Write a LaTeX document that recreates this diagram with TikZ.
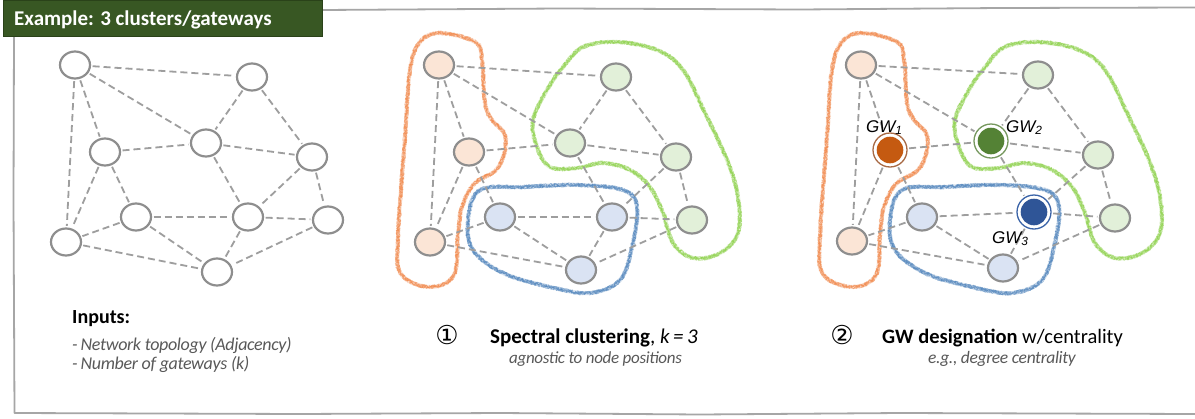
\documentclass[tikz,border=0pt]{standalone}
\usepackage{fontspec}
\setmainfont{Carlito}
\newfontfamily\gwfont{Liberation Sans}
\newfontfamily\symfont{DejaVu Sans}
\usetikzlibrary{shapes.geometric,decorations.pathmorphing}
\definecolor{ndgray}{HTML}{8E8E8E}
\definecolor{edgegray}{HTML}{9E9E9E}
\definecolor{orfill}{HTML}{FBE5D6}
\definecolor{grfill}{HTML}{E2F0D9}
\definecolor{blfill}{HTML}{DAE3F3}
\definecolor{orline}{HTML}{F2884A}
\definecolor{grline}{HTML}{8ED24C}
\definecolor{blline}{HTML}{4F84BC}
\definecolor{gwone}{HTML}{C55A11}
\definecolor{gwonering}{HTML}{A86A45}
\definecolor{gwtwo}{HTML}{548235}
\definecolor{gwtworing}{HTML}{76985E}
\definecolor{gwthree}{HTML}{2F5597}
\definecolor{gwthreering}{HTML}{3B64A8}
\definecolor{hdrfill}{HTML}{385723}
\definecolor{hdrline}{HTML}{2A4219}
\definecolor{framegray}{HTML}{A6A6A6}
\definecolor{subgray}{HTML}{595959}
\def\orangepath{plot[smooth cycle, tension=0.6] coordinates {(76,33) (111,42) (118,60) (121,103) (128,120) (140,133) (141,150) (132,170) (110,184) (98,207) (94,235) (90,275) (66,287) (37,274) (34,237) (41,137) (46,70) (56,42)}}
\def\greenpath{plot[smooth cycle, tension=0.6] coordinates {(199,67) (219,47) (253,42) (293,50) (319,70) (343,117) (363,160) (374,197) (374,233) (356,253) (329,258) (309,243) (299,213) (286,187) (266,170) (239,163) (213,168) (186,167) (173,147) (169,120) (183,90)}}
\def\bluepath{plot[smooth cycle, tension=0.6] coordinates {(116,190) (159,187) (213,185) (259,190) (273,207) (268,247) (256,280) (226,293) (186,287) (139,273) (109,250) (104,220)}}
\begin{document}
\begin{tikzpicture}[x=1pt,y=-1pt,
  nd/.style={ellipse, draw=ndgray, line width=2.2pt, minimum width=30pt, minimum height=27pt, inner sep=0pt, fill=white},
  gw/.style 2 args={circle, draw=#1, line width=1.3pt, fill=white, minimum size=34pt, inner sep=0pt,
     path picture={\fill[#2] (path picture bounding box.center) circle (13.3pt);}},
  edge/.style={draw=edgegray, line width=1.8pt, dash pattern=on 7pt off 4pt},
  fuzz/.style={draw=#1, decorate, decoration={random steps, segment length=1pt, amplitude=2.2pt}, line width=0.5pt, draw opacity=0.45, line join=round},
  softline/.style={draw=#1, line width=4pt, draw opacity=0.22},
  frame/.style={draw=framegray, line width=1.8pt, line join=round, line cap=round},
  txt/.style={inner sep=0pt, anchor=base west},
  gwlabel/.style={inner sep=0pt, anchor=base west, font=\gwfont\itshape\fontsize{17}{20}\selectfont}
]
\pgfmathsetseed{7}
\useasboundingbox (0,0) rectangle (1195,418);
\fill[white] (0,0) rectangle (1195,418);
% sketch frame
\draw[frame] (322,10) -- (560,8.5) -- (800,9.5) -- (1000,8) -- (1196,7.5);
\draw[frame] (14,36) -- (13.5,200) -- (14.5,413) -- (300,414) -- (500,413) -- (700,414.5) -- (900,413) -- (1196,414);
% header
\node[fill=hdrfill, draw=hdrline, line width=0.8pt, minimum width=319pt, minimum height=36pt, inner sep=0pt] (hdr) at (162.5,18) {};
\node[txt, text=white, font=\bfseries\fontsize{21}{24}\selectfont] (hdrt) at (14,25) {Example: 3 clusters/gateways};

% clusters, middle graph
\begin{scope}[xshift=364pt]
  \draw[softline=orline] \orangepath;
  \foreach \k in {1,...,6} \draw[fuzz=orline] \orangepath;
  \draw[softline=grline] \greenpath;
  \foreach \k in {1,...,6} \draw[fuzz=grline] \greenpath;
  \draw[softline=blline] \bluepath;
  \foreach \k in {1,...,6} \draw[fuzz=blline] \bluepath;
\end{scope}
% clusters, right graph
\begin{scope}[xshift=786pt]
  \draw[softline=orline] \orangepath;
  \foreach \k in {1,...,6} \draw[fuzz=orline] \orangepath;
  \draw[softline=grline] \greenpath;
  \foreach \k in {1,...,6} \draw[fuzz=grline] \greenpath;
  \draw[softline=blline] \bluepath;
  \foreach \k in {1,...,6} \draw[fuzz=blline] \bluepath;
\end{scope}

% left graph
\begin{scope}
  \node[nd] (aA) at (75,65) {};
  \node[nd] (aB) at (252,77) {};
  \node[nd] (aC) at (105,152) {};
  \node[nd] (aD) at (206,143) {};
  \node[nd] (aE) at (312,157) {};
  \node[nd] (aF) at (136,217) {};
  \node[nd] (aG) at (248,217) {};
  \node[nd] (aH) at (328,220) {};
  \node[nd] (aI) at (66,242) {};
  \node[nd] (aJ) at (217,272) {};
\end{scope}
% middle graph
\begin{scope}[xshift=364pt]
  \node[nd, fill=orfill] (bA) at (75,65) {};
  \node[nd, fill=grfill] (bB) at (252,77) {};
  \node[nd, fill=orfill] (bC) at (105,152) {};
  \node[nd, fill=grfill] (bD) at (206,143) {};
  \node[nd, fill=grfill] (bE) at (312,157) {};
  \node[nd, fill=blfill] (bF) at (136,217) {};
  \node[nd, fill=blfill] (bG) at (248,217) {};
  \node[nd, fill=grfill] (bH) at (328,220) {};
  \node[nd, fill=orfill] (bI) at (66,242) {};
  \node[nd, fill=blfill] (bJ) at (217,270) {};
\end{scope}
% right graph
\begin{scope}[xshift=786pt]
  \node[nd, fill=orfill] (cA) at (75,65) {};
  \node[nd, fill=grfill] (cB) at (252,75) {};
  \node[gw={gwonering}{gwone}] (cC) at (104,150) {};
  \node[gw={gwtworing}{gwtwo}] (cD) at (205,141) {};
  \node[nd, fill=grfill] (cE) at (312,155) {};
  \node[nd, fill=blfill] (cF) at (136,217) {};
  \node[gw={gwthreering}{gwthree}] (cG) at (248,212) {};
  \node[nd, fill=grfill] (cH) at (329,218) {};
  \node[nd, fill=orfill] (cI) at (66,241) {};
  \node[nd, fill=blfill] (cJ) at (217,268) {};
\end{scope}

% edges
\foreach \p in {a,b,c}{
  \foreach \u/\v in {A/B, A/D, A/C, A/I, B/D, B/E, C/D, C/F, C/I, D/E, D/G, E/G, E/H, F/G, F/I, F/J, G/H, G/J, I/J, H/J}
    \draw[edge, shorten <=1.5pt, shorten >=1.5pt] (\p\u) -- (\p\v);
}

% gateway labels
\node[gwlabel] (gw1) at (866,132) {GW\textsubscript{1}};
\node[gwlabel] (gw2) at (1006,132) {GW\textsubscript{2}};
\node[gwlabel] (gw3) at (992,243) {GW\textsubscript{3}};

% texts
\node[txt, font=\bfseries\fontsize{20}{24}\selectfont] (inp) at (72,323) {Inputs:};
\node[txt, text=subgray, font=\itshape\fontsize{18}{21}\selectfont\addfontfeature{LetterSpace=-2}] (inp1) at (72,350) {-\,Network topology (Adjacency)};
\node[txt, text=subgray, font=\itshape\fontsize{18}{21}\selectfont\addfontfeature{LetterSpace=-2}] (inp2) at (72,369) {-\,Number of gateways (k)};

\node[inner sep=0pt, font=\symfont\fontsize{26}{28}\selectfont] (n1) at (447,335) {①};
\node[txt, font=\fontsize{21}{24}\selectfont] (s1) at (490,343) {\textbf{Spectral clustering}, \textit{k\,=\,3}};
\node[txt, text=subgray, font=\itshape\fontsize{17}{20}\selectfont\addfontfeature{LetterSpace=-2}] (s1b) at (509,363) {agnostic to node positions};

\node[inner sep=0pt, font=\symfont\fontsize{26}{28}\selectfont] (n2) at (842,335) {②};
\node[txt, font=\fontsize{20.5}{24}\selectfont] (s2) at (882,343) {\textbf{GW designation} w/centrality};
\node[txt, text=subgray, font=\itshape\fontsize{17.5}{20}\selectfont\addfontfeature{LetterSpace=-2}] (s2b) at (928,363) {e.g., degree centrality};
\end{tikzpicture}
\end{document}
